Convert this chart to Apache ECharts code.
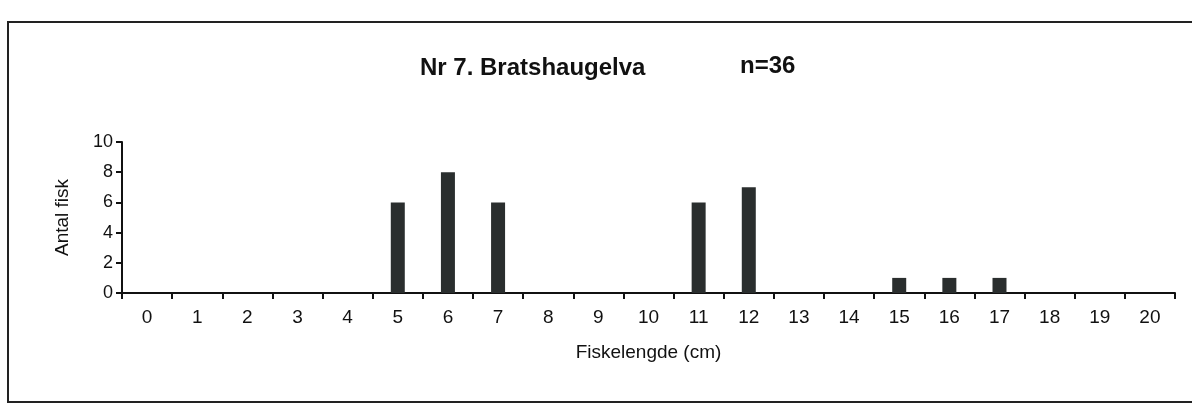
<!DOCTYPE html>
<html>
<head>
<meta charset="utf-8">
<script src="https://cdn.jsdelivr.net/npm/echarts@6/dist/echarts.min.js"></script>
<style>
  html, body { margin: 0; padding: 0; background: #fff; }
  #chart { width: 1192px; height: 411px; }
</style>
</head>
<body>
<div id="chart"></div>
<script>
const lengths = ['0', '1', '2', '3', '4', '5', '6', '7', '8', '9', '10',
  '11', '12', '13', '14', '15', '16', '17', '18', '19', '20']
const counts = [0, 0, 0, 0, 0, 6, 8, 6, 0, 0, 0, 6, 7, 0, 0, 1, 1, 1, 0, 0, 0]

const chart = echarts.init(document.getElementById('chart'))
const font = 'Liberation Sans, Arial, sans-serif'
const titleStyle = { fontFamily: font, fontSize: 24, fontWeight: 'bold', color: '#111' }

chart.setOption({
  animation: false,
  graphic: [{
    type: 'rect',
    shape: { x: 8, y: 22, width: 1200, height: 380 },
    style: { fill: 'none', stroke: '#222', lineWidth: 2 }
  }],
  title: [
    { text: 'Nr 7. Bratshaugelva', left: 415, top: 51, textStyle: titleStyle },
    { text: 'n=36', left: 735, top: 49, textStyle: titleStyle }
  ],
  grid: { left: 122, right: 17, top: 142, bottom: 118 },
  xAxis: {
    type: 'category',
    data: lengths,
    name: 'Fiskelengde (cm)',
    nameLocation: 'middle',
    nameGap: 50,
    nameTextStyle: { fontFamily: font, fontSize: 19, color: '#111' },
    axisLine: { lineStyle: { color: '#111', width: 2 } },
    axisTick: { show: true, length: 6, lineStyle: { color: '#111', width: 2 } },
    axisLabel: { fontFamily: font, fontSize: 19, color: '#111', margin: 15 }
  },
  yAxis: {
    type: 'value',
    min: 0,
    max: 10,
    interval: 2,
    name: 'Antal fisk',
    nameLocation: 'middle',
    nameGap: 50,
    nameTextStyle: { fontFamily: font, fontSize: 19, color: '#111' },
    axisLine: { show: true, lineStyle: { color: '#111', width: 2 } },
    axisTick: { show: true, length: 6, lineStyle: { color: '#111', width: 2 } },
    axisLabel: { fontFamily: font, fontSize: 18, color: '#111', margin: 9 },
    splitLine: { show: false }
  },
  series: [{
    type: 'bar',
    data: counts,
    barWidth: 14,
    itemStyle: { color: '#2a2e2e' }
  }]
})
</script>
</body>
</html>
